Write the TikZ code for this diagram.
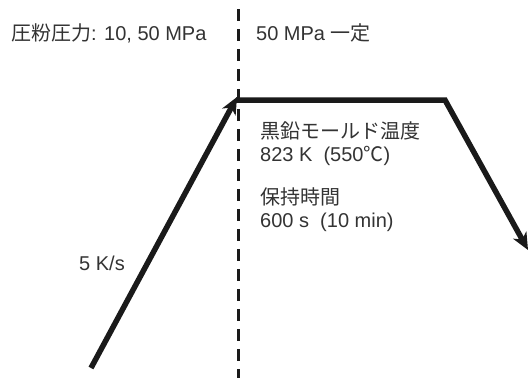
\documentclass[tikz,border=0pt]{standalone}
\usepackage{fontspec}
\setmainfont{Liberation Sans}
\newfontfamily\cjk{Noto Sans CJK JP}
\usetikzlibrary{arrows.meta}
\definecolor{inkline}{HTML}{1A1A1A}
\definecolor{inktext}{HTML}{333333}
\begin{document}
\begin{tikzpicture}[x=1pt,y=-1pt,
  lbl/.style={anchor=west,inner sep=0pt,text=inktext,font=\fontsize{20}{23}\selectfont,align=left},
  thickarrow/.style={draw=inkline,line width=5.5pt,line join=miter,
     -{Stealth[length=17pt,width=15pt,inset=5pt]}},
  divider/.style={draw=inkline,line width=3pt,dash pattern=on 12pt off 8pt}]
\useasboundingbox (0,0) rectangle (530,378);
\fill[white] (0,0) rectangle (530,378);
% coordinates
\coordinate (dtop) at (238,9);
\coordinate (dbot) at (238,378);
\coordinate (start) at (91,368);
\coordinate (top) at (237,97);
\coordinate (hold) at (236,100);
\coordinate (corner) at (445,100);
\coordinate (finish) at (528,250);
% divider
\draw[divider] (dtop) -- (dbot);
% ramp
\draw[thickarrow] (start) -- (top);
\draw[thickarrow] (hold) -- (corner) -- (finish);
% labels
\node[lbl] (press1) at (11,33) {{\cjk 圧粉圧力}: 10, 50 MPa};
\node[lbl] (press2) at (256,33) {50 MPa {\cjk 一定}};
\node[lbl] (temp) at (260,144) {{\cjk 黒鉛モールド温度}\\823 K\ \ (550{\cjk ℃})};
\node[lbl] (holdt) at (260,210) {{\cjk 保持時間}\\600 s\ \ (10 min)};
\node[lbl] (rate) at (79,263) {5 K/s};
\end{tikzpicture}
\end{document}
